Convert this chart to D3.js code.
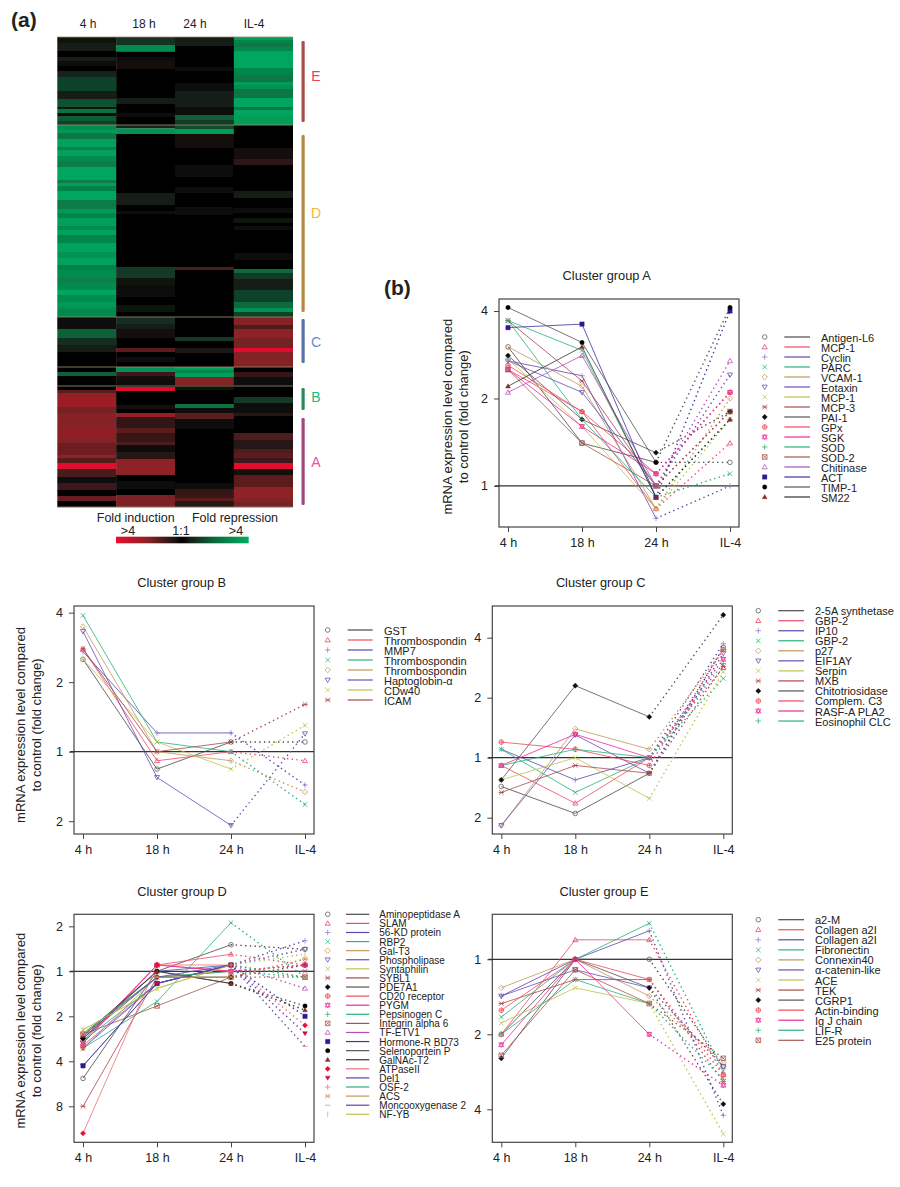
<!DOCTYPE html>
<html>
<head>
<meta charset="utf-8">
<script src="https://cdn.jsdelivr.net/npm/d3@7"></script>
<style>
  html, body { margin: 0; background: #fff; }
  svg { display: block; }
  text { font-family: "Liberation Sans", Arial, sans-serif; fill: #222; }
  .axis path.domain { display: none; }
  .axis line { stroke: #444; stroke-width: 1; }
  .axis text { font-size: 12.5px; }
</style>
</head>
<body>
<div id="chart"></div>
<script>
// heatmap: each column is a list of [end row, level], level -1 (green) .. 0 .. 1 (red)
const heatColumns = ['4 h', '18 h', '24 h', 'IL-4'];
const heatRowCount = 235;
const heat4h = [[3,-.08],[7,-.12],[10,0],[12,-.1],[14.5,-.02],[17,0],[20,-.14],[27,-.3],[31,-.1],[35,-.38],[36,-.08],[38,-.55],[39.5,-.05],[42,-.42],[44,-.3],[46.5,-.75],[48,-.85],[51,-.6],[55,-.92],[56.5,-.65],[59.5,-.92],[62,-.75],[65,-.62],[71.5,-.95],[73,-.62],[74.5,-.9],[77,-.68],[81.5,-.95],[86,-.62],[88,-.85],[90.5,-.7],[94.5,-.9],[96.5,-.75],[99,-.92],[100,-.68],[103,-.7],[107.5,-.92],[110.5,-.8],[114,-.92],[116.5,-.68],[120.5,-.75],[123,-.65],[126.5,-.75],[129,-.95],[132.5,-.75],[135,-.85],[136.5,-.78],[140,-.72],[146,-.02],[150.5,-.45],[154,-.2],[157.5,-.1],[165,.01],[167.5,0],[169.5,-.45],[174,.03],[176.5,0],[178,.35],[180.5,.55],[185,.62],[188,.45],[196.5,.5],[199,.58],[203,.5],[209,.42],[210.5,.55],[213,.32],[216,.95],[220,.28],[223,.05],[226.5,.25],[229.5,.03],[232,.4],[235,0]];
const heat18h = [[4,-.22],[7.3,-.75],[10,0],[12,-.05],[16,.1],[30.5,.02],[33.5,-.1],[35,0],[38,.02],[40,-.04],[44,.02],[45.7,-.15],[48.5,-.8],[78,.02],[84,-.1],[87,0],[88.5,-.06],[100,0],[110,.03],[115,0],[120.5,-.25],[124,-.08],[130,.05],[134,0],[137.5,-.07],[140,0],[143.5,-.2],[146,-.1],[150.5,.08],[155.5,0],[157.5,.35],[160,0],[162.5,.05],[165,0],[167.5,-.8],[169.5,.25],[171.5,.1],[174,.05],[175,0],[177,.95],[184,.03],[186,.08],[188,0],[190,.6],[195.5,.2],[198,.35],[202.5,.22],[204,.3],[207.5,.06],[211,.15],[219,.55],[222,.02],[226,.05],[229,.03],[235,.47]];
const heat24h = [[4.5,-.1],[15,0],[17,-.03],[23,0],[27,.06],[35,-.12],[39,-.06],[41.5,-.45],[44,-.25],[46,-.35],[48.5,-.85],[55.5,.08],[64,0],[70,-.03],[75,0],[78,-.03],[85,0],[89,-.03],[115,0],[116.5,.3],[140,.01],[150,.02],[152,-.25],[155.5,.03],[158,.12],[165,.01],[166.5,-.9],[168,-.72],[170,-.9],[174,.5],[176.5,-.08],[183.5,0],[185.5,-.55],[188,-.05],[191,.35],[196,-.05],[223,.02],[226,.05],[230.5,.22],[232,.35],[235,.15]];
const heatIL4 = [[1.5,-.9],[3,-.7],[5,-.6],[7,-.72],[15.5,-.95],[19,-.7],[22.5,-.6],[24,-.88],[26,-.78],[30.5,-.58],[35,-.95],[36.5,-.6],[39,-.95],[44,-.88],[55.5,.02],[61,.08],[64,.18],[77,0],[80.5,-.1],[85.5,0],[88,-.06],[90.5,0],[93,-.08],[94.5,0],[96.5,-.05],[108,0],[111.5,-.05],[116,0],[118,-.5],[121,-.25],[126.5,-.1],[132.5,-.3],[135.5,-.5],[137.5,-.8],[140,-.3],[144,.5],[146,.3],[150.5,.55],[155.5,.45],[157.5,.95],[165,.5],[167.5,0],[170,.2],[174,.05],[176.5,.02],[180,.02],[183,-.25],[188,-.05],[189.5,.15],[198,.02],[201.5,.3],[206,.15],[208,.3],[210.5,.35],[213,.25],[216,.95],[219,.1],[225,.35],[230.5,.55],[232.5,.5],[235,.45]];
const heatRules = [0, 44, 140, 165, 174.5, 235];

// cluster bars: [name, first row, last row]
const clusterBars = [['E', 2, 42.5], ['D', 49, 137.5], ['C', 141, 163], ['B', 175.5, 186.5], ['A', 190.5, 234]];

const times = ['4 h', '18 h', '24 h', 'IL-4'];

// line charts: values are signed log2 fold change at 4 h, 18 h, 24 h, IL-4
const groupALabels = ['Antigen-L6', 'MCP-1', 'Cyclin', 'PARC', 'VCAM-1', 'Eotaxin', 'MCP-1', 'MCP-3', 'PAI-1', 'GPx', 'SGK', 'SOD', 'SOD-2', 'Chitinase', 'ACT', 'TIMP-1', 'SM22'];
const groupAValues = [
  [1.59, .49, .27, .27], [1.33, .85, -.26, .49], [1.43, 1.26, -.37, 0], [1.89, 1.55, -.13, .14],
  [1.59, 1.14, -.26, 1], [1.43, 1.07, 0, 1.27], [1.45, .68, -.26, .76], [1.89, 1.2, 0, .85],
  [1.49, .76, .38, .85], [1.38, .85, .14, 1.07], [1.33, .68, .14, 1.07], [1.89, .76, -.13, .76],
  [1.33, .49, 0, .85], [1.07, 1.49, 0, 1.43], [1.81, 1.85, -.13, 2], [2.04, 1.64, .27, 2.04], [1.14, 1.59, -.13, .76]
];
const groupBLabels = ['GST', 'Thrombospondin', 'MMP7', 'Thrombospondin', 'Thrombospondin', 'Haptoglobin-α', 'CDw40', 'ICAM'];
const groupBValues = [
  [1.33, -.25, .14, .14], [1.48, -.13, 0, -.13], [1.44, .27, .27, -.48], [1.96, .14, 0, -.76],
  [1.8, 0, -.13, -.58], [1.73, -.37, -1.06, .26], [1.33, .14, -.25, .38], [1.48, 0, .14, .68]
];
const groupCLabels = ['2-5A synthetase', 'GBP-2', 'IP10', 'GBP-2', 'p27', 'EIF1AY', 'Serpin', 'MXB', 'Chitotriosidase', 'Complem. C3', 'RASF-A PLA2', 'Eosinophil CLC'];
const groupCValues = [
  [-.48, -.93, -.26, 1.84], [-.13, -.76, 0, 1.5], [.14, -.37, 0, 1.9], [.14, -.58, 0, 1.32],
  [-1.13, .48, .14, 1.8], [-1.13, .38, -.26, 1.74], [-.37, 0, -.68, 1.43], [-.58, -.13, -.26, 1.52],
  [-.37, 1.2, .68, 2.38], [.26, .14, -.13, 1.8], [-.13, .39, 0, 1.64], [-.13, .14, 0, 1.57]
];
const groupDLabels = ['Aminopeptidase A', 'SLAM', '56-KD protein', 'RBP2', 'Gal-T3', 'Phospholipase', 'Syntaphilin', 'SYBL1', 'PDE7A1', 'CD20 receptor', 'PYGM', 'Pepsinogen C', 'Integrin alpha 6', 'TF-ETV1', 'Hormone-R BD73', 'Selenoportein P', 'GalNAc-T2', 'ATPaseII', 'Del1', 'OSF-2', 'ACS', 'Moncooxygenase 2', 'NF-YB'];
const groupDValues = [
  [-2.38, 0, .59, .49], [-1.6, .14, .38, .14], [-1.49, 0, .14, .68], [-1.71, -.67, 1.08, -.13],
  [-1.38, -.13, -.13, .27], [-2.1, -.27, .14, .49], [-1.3, -.38, .14, -.13], [-3, -.13, 0, 0],
  [-1.49, -.13, -.13, .14], [-1.55, .14, 0, .14], [-1.6, .14, 0, .14], [-1.55, -.27, .14, -.13],
  [-1.4, -.77, -.13, -.13], [-1.65, -.27, .14, -.38], [-2.1, -.27, .14, -1], [-1.49, 0, -.27, -.77],
  [-1.43, 0, -.27, -.86], [-3.6, .14, .14, -1.2], [-1.71, -.27, .14, -1.38], [-1.38, -.13, 0, -.13],
  [-1.71, -.13, -.13, .27], [-1.43, -.13, .14, -1.67], [-1.3, -.38, .14, .38]
];
const groupELabels = ['a2-M', 'Collagen a2I', 'Collagen a2I', 'Fibronectin', 'Connexin40', 'α-catenin-like', 'ACE', 'TEK', 'CGRP1', 'Actin-binding', 'Ig J chain', 'LIF-R', 'E25 protein'];
const groupEValues = [
  [-1, 0, 0, -1.43], [-1, .26, .26, -1.54], [-.49, 0, .38, -2.08], [-.77, 0, .48, -1.49],
  [-.38, 0, -.49, -1.38], [-.49, -.14, -.38, -1.43], [-.85, -.38, -.59, -2.33], [-.59, -.27, -.27, -1.63],
  [-1.32, 0, -.38, -1.93], [-.68, 0, -.27, -1.54], [-1.14, 0, -1, -1.68], [-1, -.27, -.59, -1.6],
  [-1.28, -.14, -.59, -1.32]
];

const lineColors = ['#4a4a4a', '#ee4a62', '#5b48ad', '#28b27e', '#c2955a', '#6650b4', '#bfc24a', '#a94a4e', '#555', '#ef4a5c', '#ee2a9c', '#28b27e', '#a5574e', '#b54fb4', '#44309f', '#555', '#333', '#ee7078', '#5b40b0', '#28b27e', '#c2955a', '#5b48ad', '#bfc24a'];
const markerColors = ['#555', '#ee3a5a', '#8a7ad0', '#20b080', '#c2955a', '#5b48ad', '#bfc24a', '#a83a3a', '#111', '#ef4a5c', '#ee2a9c', '#28b27e', '#a5574e', '#b54fb4', '#2a1a90', '#000', '#8a2a2a', '#e81030', '#c81040', '#ee7078', '#d88a40', '#ee7aa0', '#bfc24a'];

const svg = d3.select('#chart').append('svg').attr('width', 900).attr('height', 1187);

const defs = svg.append('defs');
defs.append('filter').attr('id', 'soft')
  .append('feGaussianBlur').attr('stdDeviation', 0.5);
defs.append('filter').attr('id', 'softer')
  .append('feGaussianBlur').attr('stdDeviation', 0.3);

const heatColor = d3.scaleLinear()
  .domain([-1, -0.5, -0.12, -0.03, 0.03, 0.12, 0.5, 1])
  .range(['#00ad62', '#0a6b3e', '#181f18', '#070707', '#050505', '#1e1414', '#842226', '#ec0f30']);

function drawHeatmap() {
  const x = d3.scaleBand().domain(heatColumns).range([57.3, 292.7]);
  const y = d3.scaleLinear().domain([0, heatRowCount]).range([37, 507]);
  const columns = [heat4h, heat18h, heat24h, heatIL4];

  const g = svg.append('g').attr('filter', 'url(#soft)');
  columns.forEach((bands, i) => {
    g.append('g').selectAll('rect')
      .data(bands)
      .join('rect')
      .attr('x', x(heatColumns[i]))
      .attr('width', x.bandwidth() + 0.3)
      .attr('y', (d, j) => y(j ? bands[j - 1][0] : 0))
      .attr('height', (d, j) => y(d[0]) - y(j ? bands[j - 1][0] : 0) + 0.2)
      .attr('fill', d => heatColor(d[1]));
  });
  g.append('g').selectAll('line')
    .data(heatRules)
    .join('line')
    .attr('x1', 57.3).attr('x2', 292.7)
    .attr('y1', d => y(d)).attr('y2', d => y(d))
    .attr('stroke', '#a08a6a')
    .attr('stroke-width', 0.8);

  svg.append('g').selectAll('text')
    .data(heatColumns)
    .join('text')
    .attr('x', (d, i) => [88, 144, 195, 254][i])
    .attr('y', 28)
    .attr('text-anchor', 'middle')
    .attr('font-size', 12)
    .text(d => d);

  const barColor = { E: '#a5504a', D: '#b08c42', C: '#5a70a8', B: '#2a8a58', A: '#a04a7c' };
  const letterColor = { E: '#e8405a', D: '#f0b830', C: '#6a8ad0', B: '#20b880', A: '#f050a0' };
  const letterY = { E: 81, D: 218, C: 346.5, B: 402, A: 467 };
  svg.append('g').selectAll('rect')
    .data(clusterBars)
    .join('rect')
    .attr('x', 301.5)
    .attr('width', 3.2)
    .attr('rx', 1.2)
    .attr('y', d => y(d[1]))
    .attr('height', d => y(d[2]) - y(d[1]))
    .attr('fill', d => barColor[d[0]]);
  svg.append('g').selectAll('text')
    .data(clusterBars)
    .join('text')
    .attr('x', 316)
    .attr('y', d => letterY[d[0]])
    .attr('text-anchor', 'middle')
    .attr('font-size', 14)
    .style('fill', d => letterColor[d[0]])
    .text(d => d[0]);

  // fold change key
  const legendX = d3.scaleLinear().domain([1, -1]).range([116, 248.7]);
  const grad = defs.append('linearGradient').attr('id', 'foldKey');
  grad.selectAll('stop')
    .data(heatColor.domain().slice().reverse())
    .join('stop')
    .attr('offset', d => `${(legendX(d) - 116) / 132.7 * 100}%`)
    .attr('stop-color', d => heatColor(d));
  svg.append('rect')
    .attr('x', 116).attr('y', 536.7)
    .attr('width', 132.7).attr('height', 6.6)
    .attr('fill', 'url(#foldKey)');
  const keyText = [['Fold induction', 135.7, 522], ['Fold repression', 235, 522], ['>4', 128, 535], ['1:1', 181, 535], ['>4', 236, 535]];
  svg.append('g').selectAll('text')
    .data(keyText)
    .join('text')
    .attr('x', d => d[1])
    .attr('y', d => d[2])
    .attr('text-anchor', 'middle')
    .attr('font-size', 12.5)
    .text(d => d[0]);
}

// R style plotting characters, index follows the legend order
function markerPath(kind, r) {
  const p = d3.path();
  const circle = () => { p.moveTo(r, 0); p.arc(0, 0, r, 0, Math.PI * 2); };
  const plus = () => { p.moveTo(-r * 1.2, 0); p.lineTo(r * 1.2, 0); p.moveTo(0, -r * 1.2); p.lineTo(0, r * 1.2); };
  const cross = () => { p.moveTo(-r, -r); p.lineTo(r, r); p.moveTo(-r, r); p.lineTo(r, -r); };
  const tri = () => { p.moveTo(0, -r * 1.1); p.lineTo(r * 1.1, r * 0.8); p.lineTo(-r * 1.1, r * 0.8); p.closePath(); };
  const down = () => { p.moveTo(0, r * 1.1); p.lineTo(r * 1.1, -r * 0.8); p.lineTo(-r * 1.1, -r * 0.8); p.closePath(); };
  const diamond = () => { p.moveTo(0, -r * 1.2); p.lineTo(r * 1.2, 0); p.lineTo(0, r * 1.2); p.lineTo(-r * 1.2, 0); p.closePath(); };
  const square = () => { p.rect(-r, -r, r * 2, r * 2); };
  switch (kind) {
    case 0: case 15: circle(); break;
    case 1: case 13: case 16: tri(); break;
    case 2: case 11: case 19: plus(); break;
    case 3: case 6: cross(); break;
    case 4: case 8: case 17: diamond(); break;
    case 5: case 18: down(); break;
    case 7: case 20: cross(); p.moveTo(-r * 1.2, 0); p.lineTo(r * 1.2, 0); break;
    case 9: circle(); plus(); break;
    case 10: tri(); down(); break;
    case 12: square(); cross(); break;
    case 14: square(); break;
    case 21: p.moveTo(-r * 1.2, 0); p.lineTo(r * 1.2, 0); break;
    case 22: p.moveTo(0, -r * 1.2); p.lineTo(0, r * 1.2); break;
  }
  return p.toString();
}

const filledKinds = [8, 14, 15, 16, 17, 18];

function addMarker(sel, kind, color) {
  const filled = filledKinds.includes(kind);
  sel.append('path')
    .attr('d', markerPath(kind, filled ? 2.2 : 2.3))
    .attr('fill', filled ? color : 'none')
    .attr('stroke', color)
    .attr('stroke-width', filled ? 0.4 : 0.75);
}

function drawPanel(p) {
  const x = d3.scalePoint().domain(times).range([p.left + 9, p.left + 231]);
  const y = d3.scaleLinear().domain(p.yDomain).range([p.top, p.top + 228]);
  const g = svg.append('g');

  g.append('rect')
    .attr('x', p.left).attr('y', p.top)
    .attr('width', 240).attr('height', 228)
    .attr('fill', 'none')
    .attr('stroke', '#444')
    .attr('stroke-width', 1.2);

  g.append('g').attr('class', 'axis')
    .attr('transform', `translate(${p.left},0)`)
    .call(d3.axisLeft(y).tickValues(p.yTicks).tickSize(5).tickPadding(6).tickFormat(d => 2 ** Math.abs(d)));
  g.append('g').attr('class', 'axis')
    .attr('transform', `translate(0,${p.top + 228})`)
    .call(d3.axisBottom(x).tickSize(5).tickPadding(6));

  g.append('line')
    .attr('x1', p.left - 4).attr('x2', p.left + 240)
    .attr('y1', y(0)).attr('y2', y(0))
    .attr('stroke', '#333')
    .attr('stroke-width', 1.2);

  const marks = g.append('g').attr('filter', 'url(#softer)');
  const solid = d3.line().x((d, i) => x(times[i])).y(d => y(d));
  p.values.forEach((row, i) => {
    marks.append('path')
      .attr('d', solid(row.slice(0, 3)))
      .attr('fill', 'none')
      .attr('stroke', lineColors[i])
      .attr('stroke-opacity', 0.85)
      .attr('stroke-width', 0.95);
    marks.append('line')
      .attr('x1', x(times[2])).attr('y1', y(row[2]))
      .attr('x2', x(times[3])).attr('y2', y(row[3]))
      .attr('stroke', lineColors[i])
      .attr('stroke-width', 1.4)
      .attr('stroke-dasharray', '1.4 3.3');
  });
  p.values.forEach((row, i) => {
    row.forEach((v, t) => {
      marks.append('g')
        .attr('transform', `translate(${x(times[t])},${y(v)})`)
        .call(addMarker, i, markerColors[i]);
    });
  });

  g.append('text')
    .attr('x', p.titleX).attr('y', p.titleY)
    .attr('text-anchor', 'middle')
    .attr('font-size', 12.8)
    .text(p.title);

  if (p.yLabelX) {
    const label = g.append('g')
      .attr('transform', `translate(${p.yLabelX},${p.yLabelY}) rotate(-90)`)
      .attr('text-anchor', 'middle')
      .attr('font-size', 13);
    label.append('text').text('mRNA expression level compared');
    label.append('text').attr('y', 16).text('to control (fold change)');
  }

  const rows = g.append('g').selectAll('g')
    .data(p.labels)
    .join('g')
    .attr('transform', (d, i) => `translate(0,${p.legendY + i * p.legendStep})`);
  rows.append('g')
    .attr('transform', `translate(${p.legendX},0)`)
    .each(function (d, i) { d3.select(this).call(addMarker, i, markerColors[i]); });
  rows.append('line')
    .attr('x1', p.legendX + p.legendLine[0]).attr('x2', p.legendX + p.legendLine[1])
    .attr('stroke', (d, i) => lineColors[i])
    .attr('stroke-width', 1.2);
  rows.append('text')
    .attr('x', p.legendX + p.legendLine[2])
    .attr('y', p.legendFont ? 4 : 4.5)
    .attr('font-size', p.legendFont || 11)
    .text(d => d);
}

drawHeatmap();

svg.append('text').attr('x', 11).attr('y', 27).attr('font-size', 21).attr('font-weight', 700).text('(a)');
svg.append('text').attr('x', 384).attr('y', 295).attr('font-size', 21).attr('font-weight', 700).text('(b)');

drawPanel({
  title: 'Cluster group A', titleX: 606.7, titleY: 280,
  left: 499, top: 299, yDomain: [2.137, -0.469], yTicks: [2, 1, 0],
  labels: groupALabels, values: groupAValues,
  yLabelX: 452, yLabelY: 416.7,
  legendX: 764.7, legendY: 337, legendStep: 10, legendLine: [19.6, 45.3, 56.3]
});
drawPanel({
  title: 'Cluster group B', titleX: 181.7, titleY: 587.3,
  left: 74, top: 606, yDomain: [2.096, -1.184], yTicks: [2, 1, 0, -1],
  labels: groupBLabels, values: groupBValues,
  yLabelX: 25, yLabelY: 725,
  legendX: 327.7, legendY: 630, legendStep: 10, legendLine: [20, 45, 56.3]
});
drawPanel({
  title: 'Cluster group C', titleX: 600.7, titleY: 587.3,
  left: 492.3, top: 606, yDomain: [2.528, -1.272], yTicks: [2, 1, 0, -1],
  labels: groupCLabels, values: groupCValues,
  legendX: 758.3, legendY: 610.7, legendStep: 10.03, legendLine: [20, 45.7, 56.7]
});
drawPanel({
  title: 'Cluster group D', titleX: 182, titleY: 895.7,
  left: 74, top: 914.3, yDomain: [1.267, -3.8], yTicks: [1, 0, -1, -2, -3],
  labels: groupDLabels, values: groupDValues,
  yLabelX: 25, yLabelY: 1030.7,
  legendX: 327.7, legendY: 914.3, legendStep: 9.09, legendLine: [18.3, 41.6, 51.6], legendFont: 10
});
drawPanel({
  title: 'Cluster group E', titleX: 604, titleY: 895.7,
  left: 492.3, top: 914.3, yDomain: [0.6, -2.44], yTicks: [0, -1, -2],
  labels: groupELabels, values: groupEValues,
  legendX: 758.3, legendY: 919.7, legendStep: 10.05, legendLine: [20, 45.7, 56.7]
});
</script>
</body>
</html>
